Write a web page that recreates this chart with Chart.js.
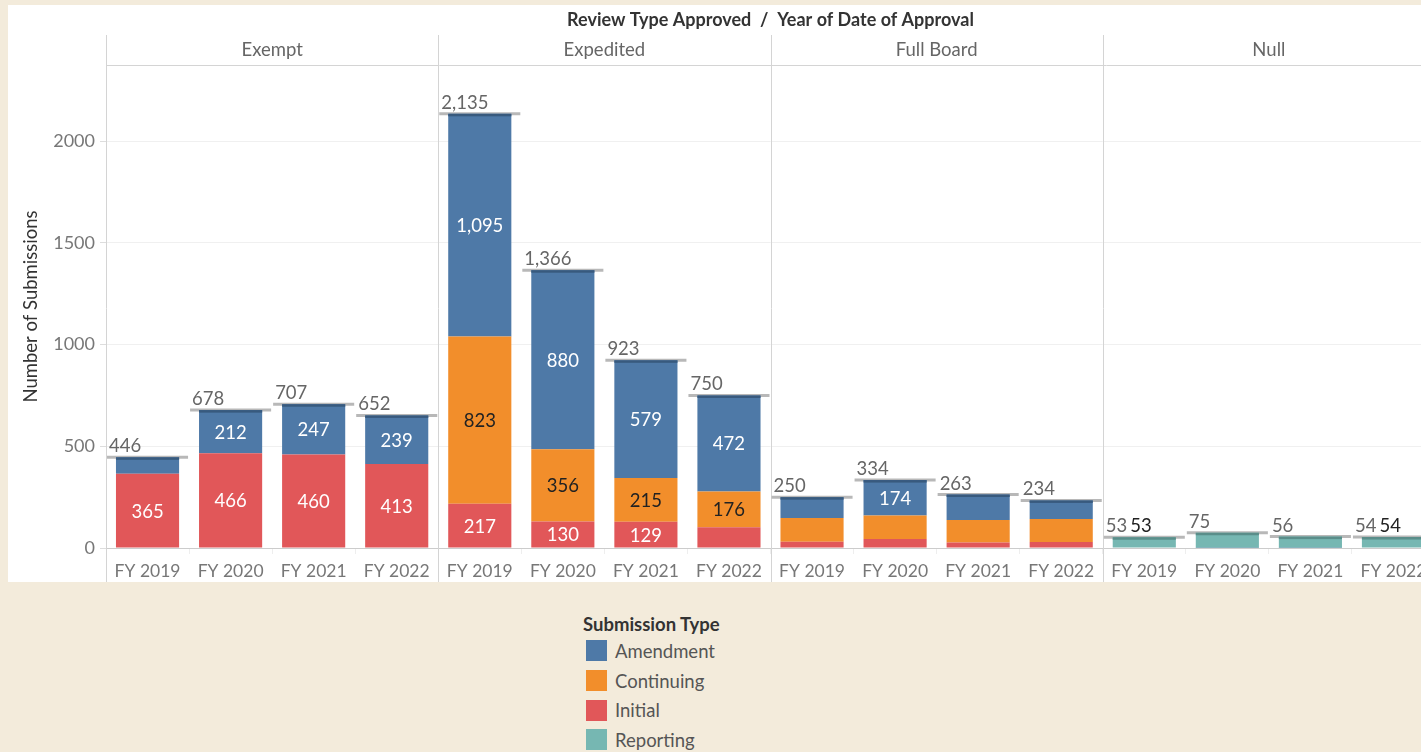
<!DOCTYPE html>
<html>
<head>
<meta charset="utf-8">
<script src="https://cdn.jsdelivr.net/npm/chart.js@4.4.0/dist/chart.umd.min.js"></script>
<style>
    body { margin: 0; background: #f3ebdb; width: 1421px; height: 752px; overflow: hidden; position: relative; font-family: Lato, sans-serif; }
    #box { position: absolute; left: 8px; top: 5px; width: 1432px; height: 577px; background: #fff; }
    #legend { position: absolute; left: 583px; top: 612px; color: #555; }
    #legend .ttl { font-weight: bold; color: #333; font-size: 18.5px; height: 24px; line-height: 24px; }
    #legend .item { display: flex; align-items: center; height: 29.7px; font-size: 18.5px; }
    #legend .sw { width: 21px; height: 21px; margin: 0 8px 0 3px; }
</style>
</head>
<body>
<div id="box"><canvas id="grafico" width="1432" height="577"></canvas></div>
<div id="legend">
    <div class="ttl">Submission Type</div>
</div>
<script>
// categorias
const reviewTypes = ['Exempt', 'Expedited', 'Full Board', 'Null'];
const years = ['FY 2019', 'FY 2020', 'FY 2021', 'FY 2022'];

// valores por tipo de envio (Exempt x4, Expedited x4, Full Board x4, Null x4)
const initial    = [365, 466, 460, 413,  217, 130, 129, 102,  31, 44, 27, 29,  0, 0, 0, 0];
const continuing = [0, 0, 0, 0,          823, 356, 215, 176,  116, 116, 111, 113,  0, 0, 0, 0];
const amendment  = [81, 212, 247, 239,   1095, 880, 579, 472,  103, 174, 125, 92,  0, 1, 1, 0];
const reporting  = [0, 0, 0, 0,          0, 0, 0, 0,  0, 0, 0, 0,  53, 74, 55, 54];

const yTicks = [0, 500, 1000, 1500, 2000];

const labels = reviewTypes.flatMap(() => years);
const totals = labels.map((_, i) => initial[i] + continuing[i] + amendment[i] + reporting[i]);

const series = [
    { label: 'Initial', data: initial, color: '#e15759', cap: '#a8434a', text: '#ffffff' },
    { label: 'Continuing', data: continuing, color: '#f28e2b', cap: '#b86a20', text: '#222222' },
    { label: 'Amendment', data: amendment, color: '#4e79a7', cap: '#385a7e', text: '#ffffff' },
    { label: 'Reporting', data: reporting, color: '#76b7b2', cap: '#5a8e8a', text: '#222222' }
];

// leyenda en orden alfabetico como en Tableau
const legend = document.getElementById('legend');
['Amendment', 'Continuing', 'Initial', 'Reporting'].forEach(name => {
    const s = series.find(d => d.label === name);
    const row = document.createElement('div');
    row.className = 'item';
    row.innerHTML = '<span class="sw" style="background:' + s.color + '"></span>' + name;
    legend.appendChild(row);
});

Chart.defaults.font.family = 'Lato, sans-serif';

const fmt = v => v.toLocaleString('en-US');

const panelPlugin = {
    id: 'panels',
    beforeDatasetsDraw(chart) {
        const { ctx, chartArea, scales: { x, y } } = chart;
        const catW = x.width / labels.length;
        ctx.save();
        // lineas de paneles
        ctx.strokeStyle = '#d4d4d4';
        ctx.lineWidth = 1;
        for (let k = 0; k <= reviewTypes.length; k++) {
            const px = Math.round(x.left + k * 4 * catW) + 0.5;
            ctx.beginPath();
            ctx.moveTo(px, 30);
            ctx.lineTo(px, chart.height);
            ctx.stroke();
        }
        ctx.beginPath();
        ctx.moveTo(x.left, chartArea.top + 0.5);
        ctx.lineTo(chart.width, chartArea.top + 0.5);
        ctx.stroke();
        // lineas de referencia de totales
        ctx.strokeStyle = '#b8b8b8';
        ctx.lineWidth = 3;
        totals.forEach((t, i) => {
            const cx = x.getPixelForValue(i);
            const py = y.getPixelForValue(t);
            ctx.beginPath();
            ctx.moveTo(cx - catW / 2 + 1, py);
            ctx.lineTo(cx + catW / 2 - 1, py);
            ctx.stroke();
        });
        ctx.restore();
    },
    afterDatasetsDraw(chart) {
        const { ctx, chartArea, scales: { x, y } } = chart;
        const catW = x.width / labels.length;
        ctx.save();
        // borde superior oscuro de cada barra
        labels.forEach((_, i) => {
            for (let d = series.length - 1; d >= 0; d--) {
                if (series[d].data[i] > 0) {
                    const el = chart.getDatasetMeta(d).data[i];
                    ctx.fillStyle = series[d].cap;
                    ctx.fillRect(el.x - el.width / 2, el.y, el.width, 2.5);
                    break;
                }
            }
        });
        // etiquetas de segmentos
        ctx.font = '18.5px Lato, sans-serif';
        ctx.textAlign = 'center';
        ctx.textBaseline = 'middle';
        series.forEach((s, d) => {
            if (s.label === 'Reporting') return;
            chart.getDatasetMeta(d).data.forEach((el, i) => {
                if (s.data[i] < 128) return;
                ctx.fillStyle = s.text;
                ctx.fillText(fmt(s.data[i]), el.x, (el.y + el.base) / 2 + 1);
            });
        });
        // etiquetas de totales
        ctx.textAlign = 'left';
        ctx.textBaseline = 'alphabetic';
        totals.forEach((t, i) => {
            const lx = x.getPixelForValue(i) - catW / 2 + 3;
            const py = y.getPixelForValue(t) - 5;
            ctx.fillStyle = '#666';
            ctx.fillText(fmt(t), lx, py);
            if (reporting[i] > 0 && amendment[i] === 0) {
                const w = ctx.measureText(fmt(t)).width;
                ctx.fillStyle = '#222';
                ctx.fillText(fmt(reporting[i]), lx + w + 3, py);
            }
        });
        // encabezados
        ctx.textAlign = 'center';
        ctx.textBaseline = 'middle';
        ctx.font = '18.5px Lato, sans-serif';
        ctx.fillStyle = '#666';
        reviewTypes.forEach((r, k) => {
            ctx.fillText(r, x.left + (k * 4 + 2) * catW, 45);
        });
        ctx.font = 'bold 18px Lato, sans-serif';
        ctx.fillStyle = '#333';
        ctx.fillText('Review Type Approved  /  Year of Date of Approval', (chartArea.left + chartArea.right) / 2, 15);
        ctx.restore();
    }
};

const ctx = document.getElementById('grafico').getContext('2d');
new Chart(ctx, {
    type: 'bar',
    data: {
        labels: labels,
        datasets: series.map(s => ({
            label: s.label,
            data: s.data,
            backgroundColor: s.color,
            borderWidth: 0,
            barPercentage: 0.76,
            categoryPercentage: 1.0
        }))
    },
    options: {
        responsive: false,
        animation: false,
        layout: { padding: { top: 60, right: 5, left: 0, bottom: 0 } },
        plugins: { legend: { display: false }, tooltip: { enabled: false } },
        scales: {
            x: {
                stacked: true,
                ticks: { color: '#777', font: { size: 17.5 }, padding: 7, maxRotation: 0, autoSkip: false },
                grid: { drawOnChartArea: false, tickLength: 6, color: '#eeeeee' },
                border: { color: '#cccccc' },
                afterFit: s => { s.height = 34; }
            },
            y: {
                stacked: true,
                min: 0,
                max: 2375,
                afterBuildTicks: s => { s.ticks = yTicks.map(v => ({ value: v })); },
                ticks: { color: '#777', font: { size: 18 }, padding: 5, callback: v => String(v) },
                grid: { color: '#f0f0f0', tickLength: 6, tickColor: '#dddddd' },
                border: { display: false },
                title: { display: true, text: 'Number of Submissions', color: '#333', font: { size: 18.5 }, padding: { top: 12, bottom: 0 } },
                afterFit: s => { s.width = 98; }
            }
        }
    },
    plugins: [panelPlugin]
});
</script>
</body>
</html>
